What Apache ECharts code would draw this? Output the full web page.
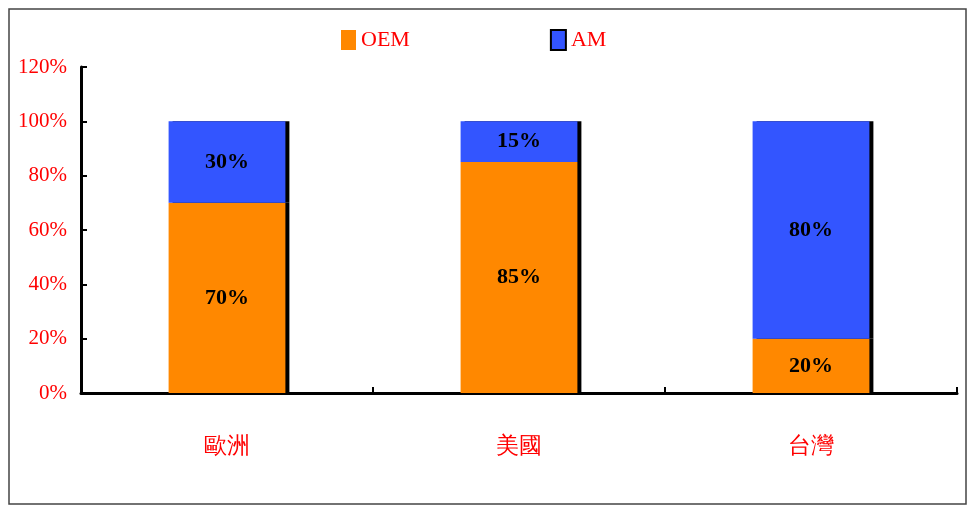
<!DOCTYPE html>
<html>
<head>
<meta charset="utf-8">
<script src="https://cdn.jsdelivr.net/npm/echarts@6/dist/echarts.min.js"></script>
<style>
  html, body { margin: 0; padding: 0; background: #fff; }
  #main { width: 972px; height: 507px; }
</style>
</head>
<body>
<div id="main"></div>
<script>
// regions and market share (%)
const categories = ['歐洲', '美國', '台灣'];
const oemValues = [70, 85, 20];
const amValues = [30, 15, 80];
const yTicks = [0, 20, 40, 60, 80, 100, 120];

const red = '#ff0000';
const serif = '"Liberation Serif", "DejaVu Serif", serif';

const chart = echarts.init(document.getElementById('main'));

// black drop shadow on the right side, like the old office chart
const barStyle = function (color) {
    return {
        color: color,
        shadowColor: '#000',
        shadowOffsetX: 4,
        shadowOffsetY: 0,
        shadowBlur: 0
    };
};

const barLabel = {
    show: true,
    position: 'inside',
    formatter: '{c}%',
    color: '#000',
    fontWeight: 'bold',
    fontSize: 22,
    fontFamily: serif
};

chart.setOption({
    animation: false,
    graphic: [{
        type: 'rect',
        shape: { x: 9, y: 9, width: 957, height: 495 },
        style: { fill: 'none', stroke: '#444', lineWidth: 1.5 },
        z: -1
    }],
    legend: {
        top: 24,
        left: 336,
        itemGap: 140,
        itemWidth: 15,
        itemHeight: 20,
        icon: 'rect',
        textStyle: { color: red, fontSize: 22, fontFamily: serif },
        data: [
            { name: 'OEM' },
            { name: 'AM', itemStyle: { borderColor: '#000', borderWidth: 2 } }
        ]
    },
    grid: { left: 81, right: 15, top: 67, bottom: 114, containLabel: false },
    xAxis: {
        type: 'category',
        data: categories,
        axisLine: { lineStyle: { color: '#000', width: 3 } },
        axisTick: { show: true, inside: true, length: 6, lineStyle: { color: '#000', width: 2 } },
        axisLabel: { color: red, fontSize: 23, margin: 42, fontFamily: serif }
    },
    yAxis: {
        type: 'value',
        min: 0,
        max: 120,
        interval: 20,
        splitLine: { show: false },
        axisLine: { show: true, lineStyle: { color: '#000', width: 3 } },
        axisTick: { show: true, inside: true, length: 6, lineStyle: { color: '#000', width: 2 } },
        axisLabel: {
            color: red,
            fontSize: 21,
            margin: 14,
            fontFamily: serif,
            formatter: function (v) { return yTicks.indexOf(v) >= 0 ? v + '%' : ''; }
        }
    },
    series: [
        {
            name: 'OEM',
            type: 'bar',
            stack: 'total',
            barWidth: '40%',
            data: oemValues,
            itemStyle: barStyle('#ff8800'),
            label: barLabel
        },
        {
            name: 'AM',
            type: 'bar',
            stack: 'total',
            barWidth: '40%',
            data: amValues,
            itemStyle: barStyle('#3355ff'),
            label: barLabel
        }
    ]
});
</script>
</body>
</html>
